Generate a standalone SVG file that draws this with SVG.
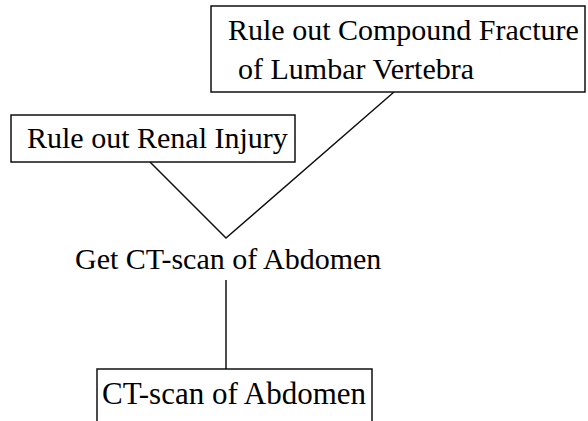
<svg xmlns="http://www.w3.org/2000/svg" width="588" height="421" viewBox="0 0 588 421">
<style>
.box{fill:#fff;stroke:#111;stroke-width:1.5}
.t{font-family:"Liberation Serif","Times New Roman",serif;font-size:30px;fill:#000}
.c{fill:none;stroke:#111;stroke-width:1.5}
</style>
<rect width="588" height="421" fill="#fff"/>
<g id="connectors">
<path class="c" d="M150 162 L226 238 L394 92"/>
<path class="c" d="M226 280 L226 369"/>
</g>
<g id="fracture">
<rect class="box" x="211" y="6" width="374" height="86"/>
<text class="t" x="228" y="40">Rule out Compound Fracture</text>
<text class="t" x="238" y="79">of Lumbar Vertebra</text>
</g>
<g id="renal">
<rect class="box" x="11" y="115" width="284" height="47"/>
<text class="t" x="27" y="148">Rule out Renal Injury</text>
</g>
<g id="getct">
<text class="t" x="75" y="269">Get CT-scan of Abdomen</text>
</g>
<g id="ctscan">
<path class="box" d="M97 425 L97 369 L372 369 L372 425"/>
<text class="t" x="102" y="404" style="font-size:31px">CT-scan of Abdomen</text>
</g>
</svg>
